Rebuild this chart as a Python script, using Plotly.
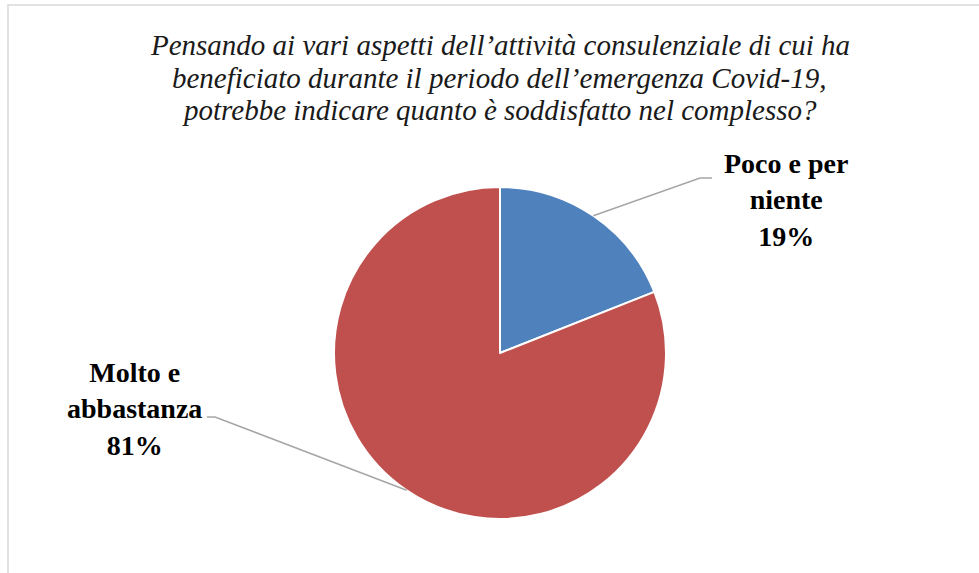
import math
import plotly.graph_objects as go

labels = ["Poco e per niente", "Molto e abbastanza"]
label_text = ["Poco e per<br>niente", "Molto e<br>abbastanza"]
values = [19, 81]
colors = ["#4F81BD", "#C0504D"]
title_lines = ["Pensando ai vari aspetti dell’attività consulenziale di cui ha",
               "beneficiato durante il periodo dell’emergenza Covid-19,",
               "potrebbe indicare quanto è soddisfatto nel complesso?"]

W, H = 979, 573
cx, cy, R = 500, 353, 166
SERIF = "Liberation Serif"

fig = go.Figure(go.Pie(
    labels=labels, values=values, sort=False, direction="clockwise", rotation=0,
    marker=dict(colors=colors, line=dict(color="white", width=2)),
    textinfo="none", hoverinfo="label+percent", showlegend=False,
    domain=dict(x=[(cx - R) / W, (cx + R) / W], y=[1 - (cy + R) / H, 1 - (cy - R) / H]),
))

def px(x):
    return x / W

def py(y):
    return 1 - y / H

# leader line geometry (elbow and label positions per slice)
elbows = [((700, 178), (712, 178), (786, 200)), ((215, 417), (207, 417), (134, 409))]
total = sum(values)
cum = 0
shapes = []
annotations = []
for i, v in enumerate(values):
    mid = (cum + v / 2) / total * 2 * math.pi
    cum += v
    ex, ey = cx + R * math.sin(mid), cy - R * math.cos(mid)
    (bx, by), (hx, hy), (tx, ty) = elbows[i]
    shapes.append(dict(type="path", xref="paper", yref="paper",
                       path=f"M {px(ex)} {py(ey)} L {px(bx)} {py(by)} L {px(hx)} {py(hy)}",
                       line=dict(color="#A6A6A6", width=1.5)))
    pct = round(v / total * 100)
    annotations.append(dict(x=px(tx), y=py(ty), xref="paper", yref="paper",
                            text=f"<b>{label_text[i]}<br>{pct}%</b>", showarrow=False,
                            align="center", xanchor="center", yanchor="middle",
                            font=dict(family=SERIF, size=28, color="black")))

for j, line in enumerate(title_lines):
    annotations.append(dict(x=px(500), y=py(45 + 32.5 * j), xref="paper", yref="paper",
                            text=f"<i>{line}</i>", showarrow=False,
                            xanchor="center", yanchor="middle",
                            font=dict(family=SERIF, size=29, color="#1a1a1a")))

shapes.append(dict(type="rect", xref="paper", yref="paper", x0=px(8), y0=py(5), x1=1.05, y1=-0.05,
                   line=dict(color="#D9D9D9", width=1.5), fillcolor="rgba(0,0,0,0)"))

fig.update_layout(width=W, height=H, margin=dict(l=0, r=0, t=0, b=0),
                  paper_bgcolor="white", plot_bgcolor="white",
                  font=dict(family=SERIF),
                  shapes=shapes, annotations=annotations)

fig.write_html("out.html")
